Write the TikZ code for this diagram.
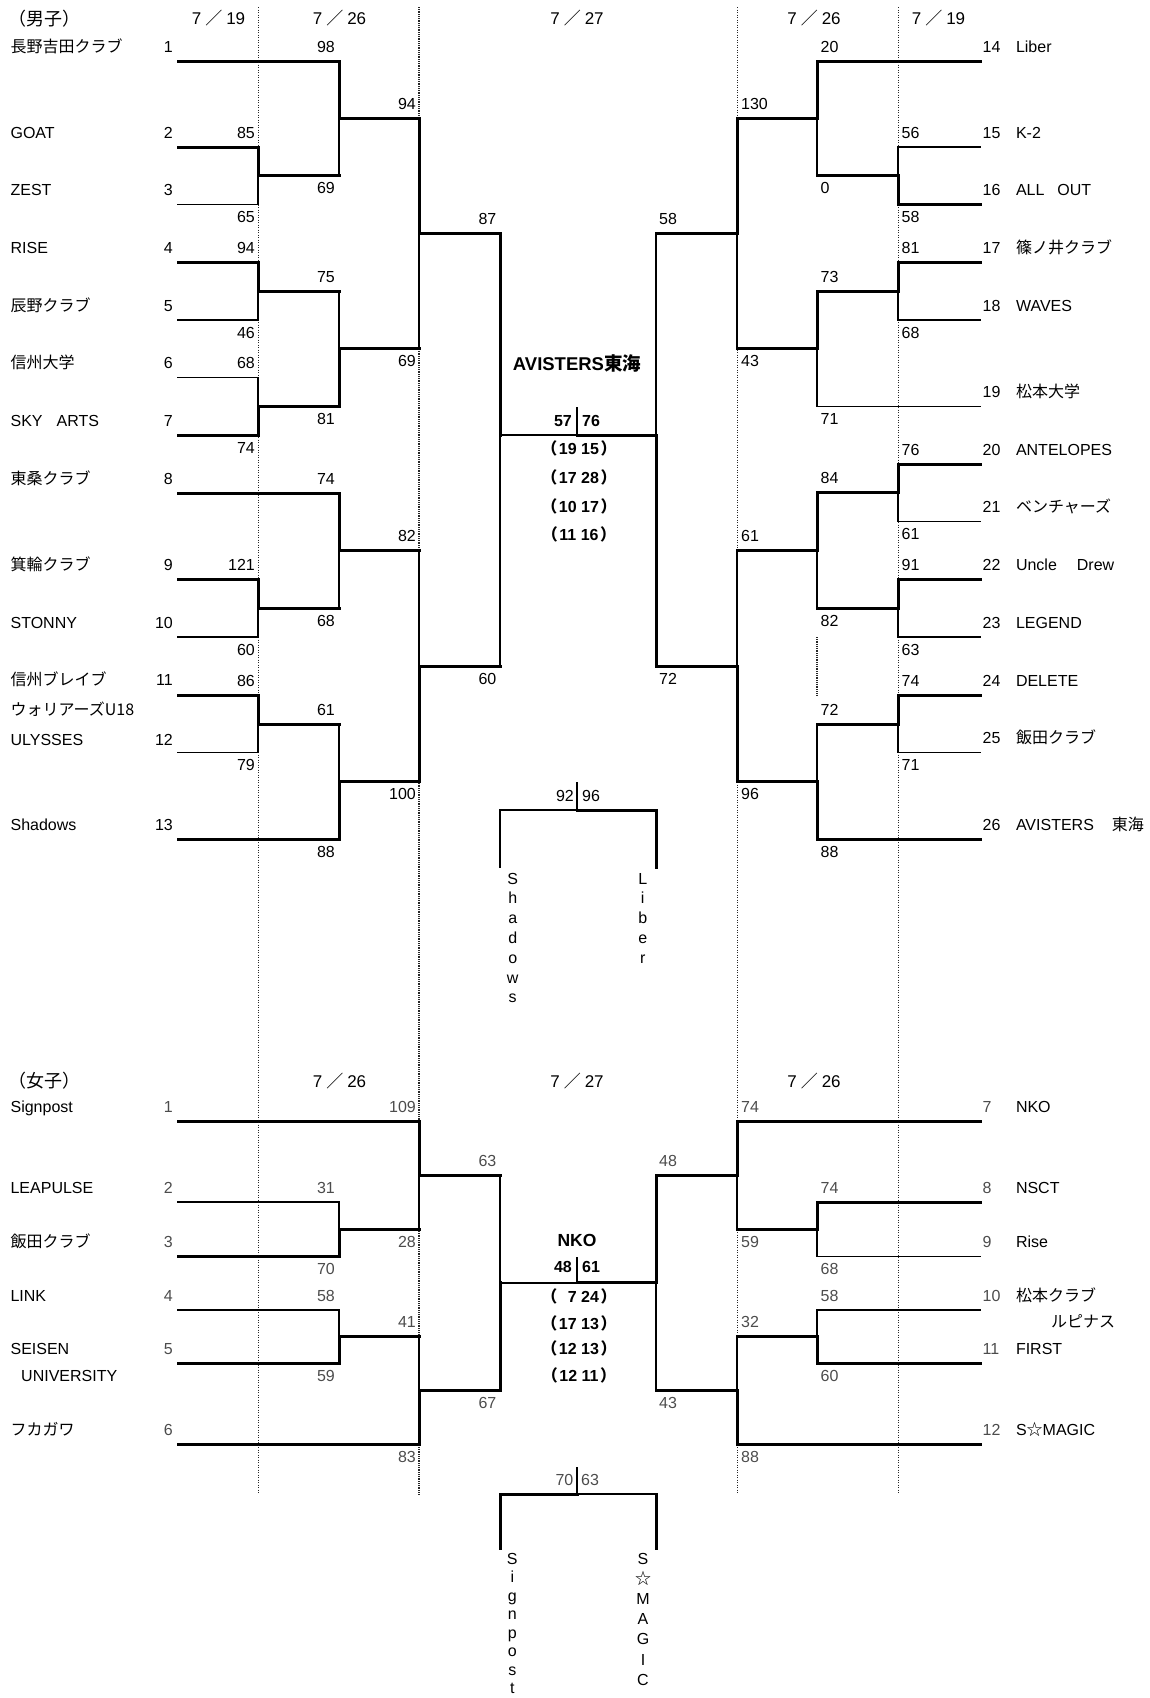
\documentclass[tikz,border=0pt]{standalone}
\usepackage{fontspec}
\setmainfont{Liberation Sans}
\newfontfamily\jp{Noto Sans CJK JP}
\newcounter{nd}
\newcommand\Tx[4]{\stepcounter{nd}\node[#1] (n\arabic{nd}) at (#2,#3) {#4};}
% match: x of vertical, y top, y bottom, winner (0 top / 1 bottom), x of output end
\newcommand\Mt[5]{%
  \pgfmathsetmacro\ymid{(#2+#3)/2}%
  \ifnum#4=0\relax
    \draw[thn] (#1,\ymid) -- (#1,#3);\draw[thk] (#1,#2) -- (#1,\ymid);
  \else
    \draw[thn] (#1,#2) -- (#1,\ymid);\draw[thk] (#1,\ymid) -- (#1,#3);
  \fi
  \draw[thk] (#1,\ymid) -- (#5,\ymid);}
\newcommand\Dt[1]{{\fontsize{17}{17}\selectfont 7\hspace{4pt}{\jp ／}\hspace{4pt}#1}}
\newcommand\Fw[1]{\hspace{4pt}{\jp （}\hspace{1.5pt}#1\hspace{1.5pt}{\jp ）}\hspace{4pt}}
\begin{document}
\begin{tikzpicture}[x=1pt,y=-1pt,
  thk/.style={line width=3pt,line cap=rect},
  thn/.style={line width=1.3pt,line cap=rect},
  dotl/.style={line width=0.9pt,dash pattern=on 0.9pt off 1.6pt,black!85},
  dotk/.style={line width=1.8pt,dash pattern=on 0.9pt off 0.9pt,black!85},
  base/.style={inner sep=0pt,font=\fontsize{16}{16}\selectfont},
  L/.style={base,anchor=base west},
  R/.style={base,anchor=base east},
  C/.style={base,anchor=base},
  B/.style={base,anchor=base,font=\fontsize{16}{16}\selectfont\bfseries},
  BL/.style={B,anchor=base west},
  BR/.style={B,anchor=base east},
  H/.style={base,anchor=base west,font=\fontsize{18}{18}\selectfont},
  g/.style={text=black!70}]
\useasboundingbox (0,0) rectangle (1150,1698);

% dotted guide lines
\draw[dotl] (258,7) -- (258,1494);
\draw[dotk] (419,7) -- (419,1494);
\draw[dotl] (737,7) -- (737,1494);
\draw[dotl] (898,7) -- (898,1494);
\draw[dotk] (817,637) -- (817,695);

% ===================== MEN =====================
% left leaves
\draw[thk] (178,61) -- (339,61);
\draw[thk] (178,147) -- (258,147);
\draw[thn] (178,204.5) -- (258,204.5);
\draw[thk] (178,262) -- (258,262);
\draw[thn] (178,320) -- (258,320);
\draw[thn] (178,377.5) -- (258,377.5);
\draw[thk] (178,435) -- (258,435);
\draw[thk] (178,493) -- (339,493);
\draw[thk] (178,579.5) -- (258,579.5);
\draw[thn] (178,637) -- (258,637);
\draw[thk] (178,695.5) -- (258,695.5);
\draw[thn] (178,752.5) -- (258,752.5);
\draw[thk] (178,839) -- (339,839);
% left matches
\Mt{258}{147}{204.5}{0}{339}
\Mt{258}{262}{320}{0}{339}
\Mt{258}{377.5}{435}{1}{339}
\Mt{258}{579.5}{637}{0}{339}
\Mt{258}{695.5}{752.5}{0}{339}
\Mt{339}{61}{175.75}{0}{419}
\Mt{339}{291}{406.25}{1}{419}
\Mt{339}{493}{608.25}{0}{419}
\Mt{339}{724}{839}{1}{419}
\Mt{419}{118.375}{348.625}{0}{500}
\Mt{419}{550.625}{781.5}{1}{500}
% right leaves
\draw[thk] (980,61) -- (817,61);
\draw[thn] (980,147) -- (898,147);
\draw[thk] (980,204.5) -- (898,204.5);
\draw[thk] (980,262) -- (898,262);
\draw[thn] (980,320) -- (898,320);
\draw[thn] (980,406.5) -- (817,406.5);
\draw[thk] (980,464) -- (898,464);
\draw[thn] (980,521.5) -- (898,521.5);
\draw[thk] (980,579.5) -- (898,579.5);
\draw[thn] (980,637) -- (898,637);
\draw[thk] (980,695.5) -- (898,695.5);
\draw[thn] (980,752.5) -- (898,752.5);
\draw[thk] (980,839) -- (817,839);
% right matches
\Mt{898}{147}{204.5}{1}{817}
\Mt{898}{262}{320}{0}{817}
\Mt{898}{464}{521.5}{0}{817}
\Mt{898}{579.5}{637}{0}{817}
\Mt{898}{695.5}{752.5}{0}{817}
\Mt{817}{61}{175.75}{0}{737}
\Mt{817}{291}{406.5}{0}{737}
\Mt{817}{492.75}{608.25}{0}{737}
\Mt{817}{724}{839}{1}{737}
\Mt{737}{118.375}{348.75}{0}{656}
\Mt{737}{550.5}{781.5}{1}{656}
% semifinals and final
\draw[thn] (500,435) -- (500,666);
\draw[thk] (500,233.5) -- (500,435);
\draw[thn] (656,233.5) -- (656,435);
\draw[thk] (656,435) -- (656,666);
\draw[thn] (500,435) -- (577,435);
\draw[thk] (577,435) -- (656,435);
\draw[line width=2pt] (577,407) -- (577,435);
% third place
\draw[thn] (500,867) -- (500,810) -- (577,810);
\draw[thk] (577,810) -- (656,810) -- (656,867);
\draw[line width=2pt] (577,782) -- (577,810);

% headers
\Tx{H}{8}{25}{\jp （男子）}
\Tx{C}{218.5}{24.5}{\Dt{19}}
\Tx{C}{339.5}{24.5}{\Dt{26}}
\Tx{C}{577}{24.5}{\Dt{27}}
\Tx{C}{814}{24.5}{\Dt{26}}
\Tx{C}{938.5}{24.5}{\Dt{19}}

% left names and numbers
\Tx{L}{10.4}{52}{\jp 長野吉田クラブ}\Tx{R}{173}{52}{1}
\Tx{L}{10.4}{138}{GOAT}\Tx{R}{173}{138}{2}
\Tx{L}{10.4}{195.5}{ZEST}\Tx{R}{173}{195.5}{3}
\Tx{L}{10.4}{253}{RISE}\Tx{R}{173}{253}{4}
\Tx{L}{10.4}{311}{\jp 辰野クラブ}\Tx{R}{173}{311}{5}
\Tx{L}{10.4}{368.5}{\jp 信州大学}\Tx{R}{173}{368.5}{6}
\Tx{L}{10.4}{426}{SKY\hspace{14pt}ARTS}\Tx{R}{173}{426}{7}
\Tx{L}{10.4}{484}{\jp 東桑クラブ}\Tx{R}{173}{484}{8}
\Tx{L}{10.4}{570.5}{\jp 箕輪クラブ}\Tx{R}{173}{570.5}{9}
\Tx{L}{10.4}{628}{STONNY}\Tx{R}{173}{628}{10}
\Tx{L}{10.4}{685.5}{\jp 信州ブレイブ}\Tx{R}{173}{685.5}{11}
\Tx{L}{10.4}{715.5}{\jp ウォリアーズU18}
\Tx{L}{10.4}{745.5}{ULYSSES}\Tx{R}{173}{745.5}{12}
\Tx{L}{10.4}{830}{Shadows}\Tx{R}{173}{830}{13}

% right numbers and names
\Tx{L}{982.5}{52}{14}\Tx{L}{1015.8}{52}{Liber}
\Tx{L}{982.5}{138}{15}\Tx{L}{1015.8}{138}{K-2}
\Tx{L}{982.5}{195.5}{16}\Tx{L}{1015.8}{195.5}{ALL\hspace{13pt}OUT}
\Tx{L}{982.5}{253}{17}\Tx{L}{1015.8}{253}{\jp 篠ノ井クラブ}
\Tx{L}{982.5}{311}{18}\Tx{L}{1015.8}{311}{WAVES}
\Tx{L}{982.5}{397.5}{19}\Tx{L}{1015.8}{397.5}{\jp 松本大学}
\Tx{L}{982.5}{455}{20}\Tx{L}{1015.8}{455}{ANTELOPES}
\Tx{L}{982.5}{512.5}{21}\Tx{L}{1015.8}{512.5}{\jp ベンチャーズ}
\Tx{L}{982.5}{570.5}{22}\Tx{L}{1015.8}{570.5}{Uncle\hspace{20pt}Drew}
\Tx{L}{982.5}{628}{23}\Tx{L}{1015.8}{628}{LEGEND}
\Tx{L}{982.5}{686.5}{24}\Tx{L}{1015.8}{686.5}{DELETE}
\Tx{L}{982.5}{743.5}{25}\Tx{L}{1015.8}{743.5}{\jp 飯田クラブ}
\Tx{L}{982.5}{830}{26}\Tx{L}{1015.8}{830}{AVISTERS\hspace{18pt}{\jp 東海}}

% left scores
\Tx{R}{255}{138}{85}\Tx{R}{255}{222.5}{65}
\Tx{R}{255}{253}{94}\Tx{R}{255}{338}{46}
\Tx{R}{255}{368.5}{68}\Tx{R}{255}{453}{74}
\Tx{R}{255}{570.5}{121}\Tx{R}{255}{655}{60}
\Tx{R}{255}{686.5}{86}\Tx{R}{255}{770.5}{79}
\Tx{R}{335}{52}{98}\Tx{R}{335}{193.75}{69}
\Tx{R}{335}{282}{75}\Tx{R}{335}{424.25}{81}
\Tx{R}{335}{484}{74}\Tx{R}{335}{626.25}{68}
\Tx{R}{335}{715}{61}\Tx{R}{335}{857}{88}
\Tx{R}{416}{109.4}{94}\Tx{R}{416}{366.6}{69}
\Tx{R}{416}{541.6}{82}\Tx{R}{416}{799.5}{100}
\Tx{R}{496.5}{224.5}{87}\Tx{R}{496.5}{684}{60}
% right scores
\Tx{L}{901.5}{138}{56}\Tx{L}{901.5}{222.5}{58}
\Tx{L}{901.5}{253}{81}\Tx{L}{901.5}{338}{68}
\Tx{L}{901.5}{455}{76}\Tx{L}{901.5}{539.5}{61}
\Tx{L}{901.5}{570.5}{91}\Tx{L}{901.5}{655}{63}
\Tx{L}{901.5}{686.5}{74}\Tx{L}{901.5}{770.5}{71}
\Tx{L}{820.5}{52}{20}\Tx{L}{820.5}{193.75}{0}
\Tx{L}{820.5}{282}{73}\Tx{L}{820.5}{424.5}{71}
\Tx{L}{820.5}{483.75}{84}\Tx{L}{820.5}{626.25}{82}
\Tx{L}{820.5}{715}{72}\Tx{L}{820.5}{857}{88}
\Tx{L}{741}{109.4}{130}\Tx{L}{741}{366.75}{43}
\Tx{L}{741}{541.5}{61}\Tx{L}{741}{799.5}{96}
\Tx{L}{659}{224.5}{58}\Tx{L}{659}{684}{72}

% final box
\Tx{B}{577}{370}{\fontsize{18.5}{18.5}\selectfont AVISTERS{\jp 東海}}
\Tx{BR}{572}{426}{57}\Tx{BL}{582}{426}{76}
\Tx{B}{577}{454.5}{\Fw{19 15}}
\Tx{B}{577}{483}{\Fw{17 28}}
\Tx{B}{577}{512.5}{\Fw{10 17}}
\Tx{B}{577}{540.5}{\Fw{11 16}}
% third place
\Tx{R}{574}{801}{92}\Tx{L}{582}{801}{96}
\foreach \c [count=\i from 0] in {S,h,a,d,o,w,s}
  \node[C] (sh\i) at (512.7,{884+19.8*\i}) {\c};
\foreach \c [count=\i from 0] in {L,i,b,e,r}
  \node[C] (lb\i) at (642.7,{884+19.8*\i}) {\c};

% ===================== WOMEN =====================
\draw[thk] (178,1121.5) -- (419,1121.5);
\draw[thn] (178,1202) -- (339,1202);
\draw[thk] (178,1256.5) -- (339,1256.5);
\draw[thn] (178,1310) -- (339,1310);
\draw[thk] (178,1363.5) -- (339,1363.5);
\draw[thk] (178,1444) -- (419,1444);
\Mt{339}{1202}{1256.5}{1}{419}
\Mt{339}{1310}{1363.5}{1}{419}
\Mt{419}{1121.5}{1229.25}{0}{500}
\Mt{419}{1336.75}{1444}{1}{500}
\draw[thk] (980,1121.5) -- (737,1121.5);
\draw[thk] (980,1202) -- (817,1202);
\draw[thn] (980,1256.5) -- (817,1256.5);
\draw[thn] (980,1310) -- (817,1310);
\draw[thk] (980,1363.5) -- (817,1363.5);
\draw[thk] (980,1444) -- (737,1444);
\Mt{817}{1202}{1256.5}{0}{737}
\Mt{817}{1310}{1363.5}{1}{737}
\Mt{737}{1121.5}{1229.25}{0}{656}
\Mt{737}{1336.75}{1444}{1}{656}
\draw[thn] (500,1175.4) -- (500,1282.9);
\draw[thk] (500,1282.9) -- (500,1390.4);
\draw[thn] (656,1282.9) -- (656,1390.4);
\draw[thk] (656,1175.4) -- (656,1282.9);
\draw[thn] (500,1282.9) -- (577,1282.9);
\draw[thk] (577,1282.9) -- (656,1282.9);
\draw[line width=2pt] (577,1257) -- (577,1282.9);
% third place
\draw[thk] (500,1548) -- (500,1494) -- (577,1494);
\draw[thn] (577,1494) -- (656,1494);
\draw[thk] (656,1494) -- (656,1548);
\draw[line width=2pt] (577,1467) -- (577,1494);

% headers
\Tx{H}{8}{1087}{\jp （女子）}
\Tx{C}{339.5}{1087}{\Dt{26}}
\Tx{C}{577}{1087}{\Dt{27}}
\Tx{C}{814}{1087}{\Dt{26}}

% names
\Tx{L}{10.4}{1112.5}{Signpost}\Tx{R,g}{173}{1112.5}{1}
\Tx{L}{10.4}{1193}{LEAPULSE}\Tx{R,g}{173}{1193}{2}
\Tx{L}{10.4}{1247.5}{\jp 飯田クラブ}\Tx{R,g}{173}{1247.5}{3}
\Tx{L}{10.4}{1301}{LINK}\Tx{R,g}{173}{1301}{4}
\Tx{L}{10.4}{1354.5}{SEISEN}\Tx{R,g}{173}{1354.5}{5}
\Tx{L}{21}{1381}{UNIVERSITY}
\Tx{L}{10.4}{1435}{\jp フカガワ}\Tx{R,g}{173}{1435}{6}
\Tx{L,g}{982.5}{1112.5}{7}\Tx{L}{1015.8}{1112.5}{NKO}
\Tx{L,g}{982.5}{1193}{8}\Tx{L}{1015.8}{1193}{NSCT}
\Tx{L,g}{982.5}{1247.5}{9}\Tx{L}{1015.8}{1247.5}{Rise}
\Tx{L,g}{982.5}{1301}{10}\Tx{L}{1015.8}{1301}{\jp 松本クラブ}
\Tx{L}{1051}{1327}{\jp ルピナス}
\Tx{L,g}{982.5}{1354.5}{11}\Tx{L}{1015.8}{1354.5}{FIRST}
\Tx{L,g}{982.5}{1435}{12}\Tx{L}{1015.8}{1435}{S{\jp ☆}MAGIC}

% scores
\Tx{R,g}{335}{1193}{31}\Tx{R,g}{335}{1274.5}{70}
\Tx{R,g}{335}{1301}{58}\Tx{R,g}{335}{1381.5}{59}
\Tx{R,g}{416}{1112.5}{109}\Tx{R,g}{416}{1247.25}{28}
\Tx{R,g}{416}{1327.75}{41}\Tx{R,g}{416}{1462}{83}
\Tx{R,g}{496.5}{1166.4}{63}\Tx{R,g}{496.5}{1408.4}{67}
\Tx{L,g}{820.5}{1193}{74}\Tx{L,g}{820.5}{1274.5}{68}
\Tx{L,g}{820.5}{1301}{58}\Tx{L,g}{820.5}{1381.5}{60}
\Tx{L,g}{741}{1112.5}{74}\Tx{L,g}{741}{1247.25}{59}
\Tx{L,g}{741}{1327.75}{32}\Tx{L,g}{741}{1462}{88}
\Tx{L,g}{659}{1166.4}{48}\Tx{L,g}{659}{1408.4}{43}

% final box
\Tx{B}{577}{1246.5}{\fontsize{17.5}{17.5}\selectfont NKO}
\Tx{BR}{572}{1272.7}{48}\Tx{BL}{582}{1272.7}{61}
\Tx{B}{577}{1302.7}{\Fw{\phantom{1}7 24}}
\Tx{B}{577}{1329.3}{\Fw{17 13}}
\Tx{B}{577}{1354.3}{\Fw{12 13}}
\Tx{B}{577}{1381}{\Fw{12 11}}
% third place
\Tx{R,g}{573.5}{1485.3}{70}\Tx{L,g}{581}{1485.3}{63}
\foreach \c [count=\i from 0] in {S,i,g,n,p,o,s,t}
  \node[C] (sp\i) at (512.3,{1564+18.5*\i}) {\c};
\foreach \c [count=\i from 0] in {S,{\jp ☆},M,A,G,I,C}
  \node[C] (sm\i) at (643,{1564+20.2*\i}) {\c};
\end{tikzpicture}
\end{document}
